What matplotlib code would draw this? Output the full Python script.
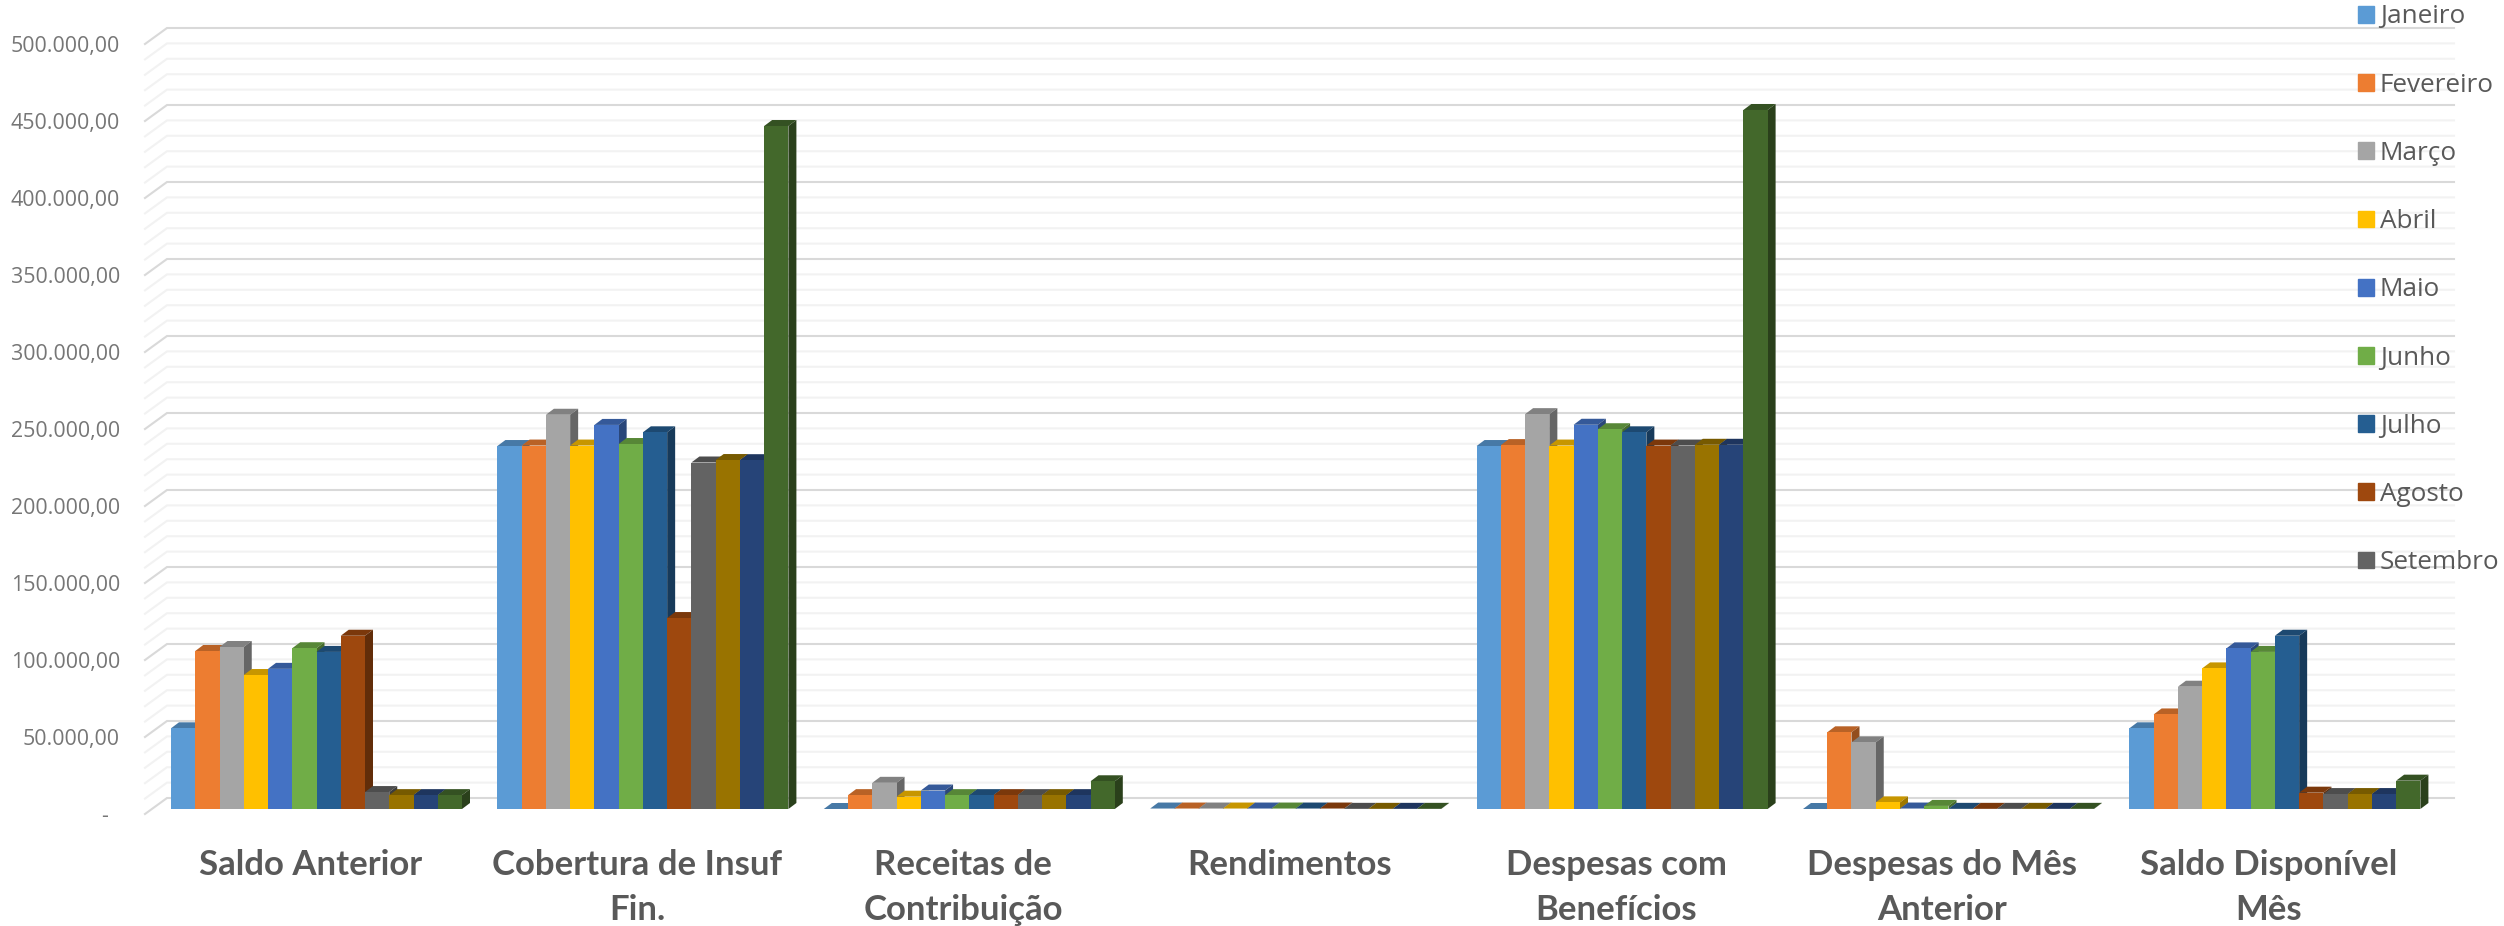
import numpy as np
import matplotlib
matplotlib.use('Agg')
import matplotlib.pyplot as plt
from matplotlib.patches import Patch, Polygon
from matplotlib.transforms import ScaledTranslation

plt.rcParams['font.family'] = ['Open Sans', 'DejaVu Sans']

categorias = ['Saldo Anterior', 'Cobertura de Insuf\nFin.', 'Receitas de\nContribuição', 'Rendimentos',
              'Despesas com\nBenefícios', 'Despesas do Mês\nAnterior', 'Saldo Disponível\nMês']
meses = ['Janeiro', 'Fevereiro', 'Março', 'Abril', 'Maio', 'Junho', 'Julho', 'Agosto', 'Setembro',
         'Outubro', 'Novembro', 'Dezembro']
cores = ['#5B9BD5', '#ED7D31', '#A5A5A5', '#FFC000', '#4472C4', '#70AD47', '#255E91', '#9E480E', '#636363',
         '#997300', '#264478', '#43682B']

# valores por categoria, de janeiro a dezembro
saldo_anterior = [52400, 102600, 105200, 87000, 91000, 104400, 102000, 112500, 11000, 9000, 9000, 9000]
cobertura = [235700, 236000, 256000, 236000, 249400, 237000, 244600, 124000, 225000, 226600, 226500, 443500]
receitas = [0, 9000, 17000, 8000, 12000, 9000, 9000, 9000, 9000, 9000, 9000, 18000]
rendimentos = [300, 300, 300, 300, 300, 300, 300, 300, 100, 100, 100, 100]
despesas = [235700, 236300, 256400, 236000, 249500, 246600, 244600, 236000, 236000, 236500, 236500, 453900]
despesas_anterior = [0, 49800, 43300, 4300, 300, 2000, 100, 100, 100, 100, 100, 100]
saldo_disponivel = [52400, 61400, 79400, 91300, 104300, 102000, 112500, 10600, 9700, 9700, 9700, 18400]
series = [saldo_anterior, cobertura, receitas, rendimentos, despesas, despesas_anterior, saldo_disponivel]

ticks = np.arange(0, 500001, 50000)
minor_ticks = np.arange(0, 500001, 10000)
tick_labels = ['-' + '\u00a0' * 2] + ['%s,00' % format(t, ',').replace(',', '.') for t in ticks[1:]]

W, H = 2504, 926
ESQ, DIR, BASE, TOPO = 145, 2454, 809, 39   # area do grafico em pixels
CENTRO, PASSO = 316.5, 326.4                # centro do 1o grupo e distancia entre grupos
PX_X = 1 / PASSO
PX_Y = 500000 / (BASE - TOPO)

fig = plt.figure(figsize=(W / 100, H / 100), dpi=100)
ax = fig.add_axes([ESQ / W, (H - BASE) / H, (DIR - ESQ) / W, (BASE - TOPO) / H])
x_min, x_max = (ESQ - CENTRO) * PX_X, (DIR - CENTRO) * PX_X
ax.set_xlim(x_min, x_max)
ax.set_ylim(0, 500000)
for s in ax.spines.values():
    s.set_visible(False)
ax.patch.set_alpha(0)

# grade: parede do fundo e diagonal do piso
fundo_y = 11 * PX_Y
frente_y = -5 * PX_Y
x_fundo = x_min + 22 * PX_X
for t in minor_ticks:
    major = t % 50000 == 0
    c = '#D9D9D9' if major else '#F2F2F2'
    ax.plot([x_min, x_fundo, x_max], [t + frente_y, t + fundo_y, t + fundo_y], color=c, lw=1.5,
            zorder=2 if major else 1, clip_on=False, solid_joinstyle='miter')

# barras com falso 3D
larg = 24.25 * PX_X
dx, dy = 8 * PX_X, 6 * PX_Y


def escurece(cor, f):
    r, g, b = matplotlib.colors.to_rgb(cor)
    return (r * f, g * f, b * f)


for i, valores in enumerate(series):
    for j, v in enumerate(valores):
        x0 = i - 6 * larg + j * larg
        x1 = x0 + larg
        ax.add_patch(Polygon([(x0, v), (x0 + dx, v + dy), (x1 + dx, v + dy), (x1, v)],
                             fc=escurece(cores[j], 0.78), ec='none', zorder=3 + j, clip_on=False))
        ax.add_patch(Polygon([(x1, 0), (x1 + dx, dy), (x1 + dx, v + dy), (x1, v)],
                             fc=escurece(cores[j], 0.62), ec='none', zorder=3 + j, clip_on=False))
        ax.bar(x0, v, larg, align='edge', color=cores[j], zorder=3 + j, clip_on=False)

ax.set_yticks(ticks)
ax.set_yticklabels(tick_labels, fontsize=15.4, color='#767676')
ax.tick_params(axis='y', length=0, pad=18)
ax.set_xticks(range(len(categorias)))
ax.set_xticklabels(categorias, fontsize=25, fontweight='bold', color='#595959', family=['Lato', 'DejaVu Sans'],
                   linespacing=1.5)
ax.tick_params(axis='x', length=0, pad=28.5)

# rotulos ficam no plano da frente, um pouco abaixo das barras
desl_y = ScaledTranslation(0, -5 / 100, fig.dpi_scale_trans)
for lab in ax.get_yticklabels():
    lab.set_transform(lab.get_transform() + desl_y)
desl_x = ScaledTranslation(-6 / 100, 0, fig.dpi_scale_trans)
for lab in ax.get_xticklabels():
    lab.set_transform(lab.get_transform() + desl_x)

handles = [Patch(color=cores[j], label=meses[j]) for j in range(9)]
fig.legend(handles=handles, loc='upper left', bbox_to_anchor=(2358 / W, 1 - 4.5 / H), frameon=False, borderpad=0,
           borderaxespad=0, fontsize=18.8, labelcolor='#595959', handlelength=0.61, handleheight=0.61,
           handletextpad=0.23, labelspacing=1.655)

fig.savefig('out.png', dpi=100, facecolor='white')
